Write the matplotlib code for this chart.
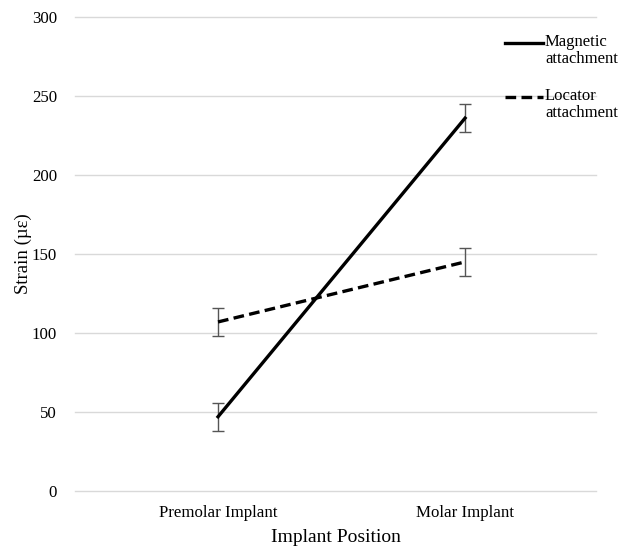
import matplotlib
matplotlib.use("Agg")
import matplotlib.pyplot as plt
from matplotlib.lines import Line2D

plt.rcParams['font.family'] = ['Liberation Serif', 'DejaVu Serif']

categories = ["Premolar Implant", "Molar Implant"]
magnetic = [47, 236]
magnetic_err = [9, 9]
locator = [107, 145]
locator_err = [9, 9]
series_labels = ["Magnetic\nattachment", "Locator\nattachment"]
yticks = [0, 50, 100, 150, 200, 250, 300]

fig = plt.figure(figsize=(6.3, 5.47), dpi=100)
ax = fig.add_axes([75/630, 1-491/547, (596-75)/630, (491-17)/547])

x = list(range(len(categories)))
ax.errorbar(x, magnetic, yerr=magnetic_err, color='black', lw=2.4,
            ecolor='#555555', elinewidth=1.0, capsize=4, capthick=1.0, zorder=3)
ax.errorbar(x, locator, yerr=locator_err, color='black', lw=2.4, ls=(0, (3.2, 1.6)),
            ecolor='#555555', elinewidth=1.0, capsize=4, capthick=1.0, zorder=3)

ax.set_xlim(-0.579, 1.530)
ax.set_ylim(0, 300)
ax.set_yticks(yticks)
ax.set_xticks(x)
ax.set_xticklabels(categories)
ax.tick_params(axis='both', length=0, labelsize=12.2)
ax.tick_params(axis='y', pad=13)
ax.tick_params(axis='x', pad=10)
ax.grid(axis='y', color='#d9d9d9', lw=1.0)
for gl in ax.get_ygridlines():
    gl.set_clip_on(False)
ax.set_axisbelow(True)
for s in ax.spines.values():
    s.set_visible(False)
ax.set_xlabel("Implant Position", fontsize=14, labelpad=6)
ax.set_ylabel("Strain (µε)", fontsize=13.5, labelpad=0)

# legend drawn at the right
styles = ['-', (0, (3.2, 1.6))]
ys = [43, 97]
for lab, st, yy in zip(series_labels, styles, ys):
    fy = 1 - yy/547
    fig.add_artist(Line2D([505/630, 543/630], [fy, fy], color='black', lw=2.4, ls=st,
                          transform=fig.transFigure))
    fig.text(545/630, fy + 9/547, lab, ha='left', va='top', fontsize=12, linespacing=1.05)

fig.savefig("out.png", dpi=100)
